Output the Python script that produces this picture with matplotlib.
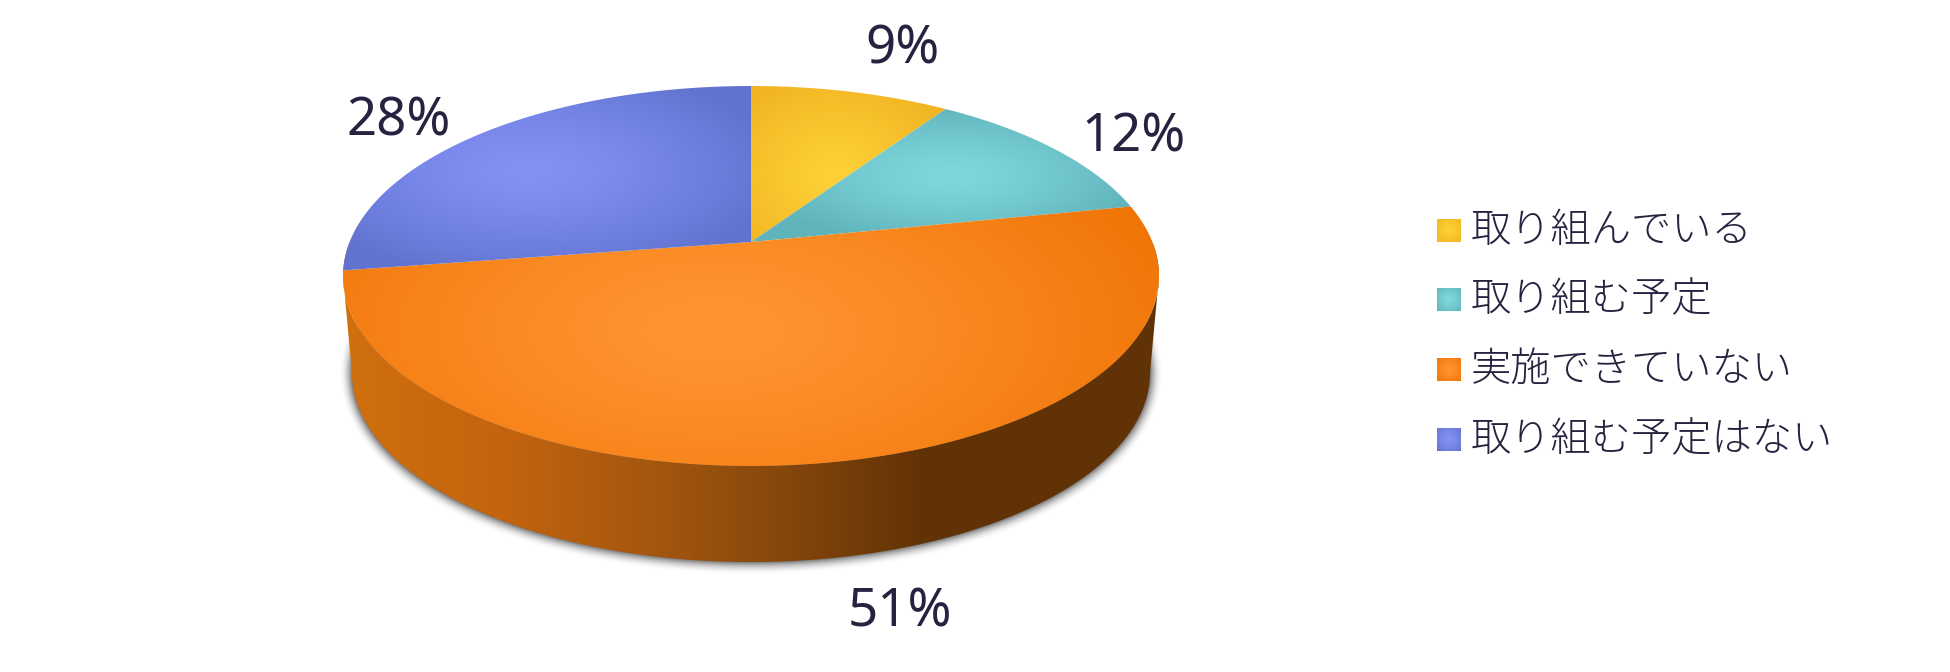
import matplotlib
matplotlib.use("Agg")
import matplotlib.pyplot as plt
import numpy as np
from matplotlib.colors import to_rgb
from matplotlib.patches import Polygon

# legend entries, clockwise from 12 o'clock
categories = ["取り組んでいる", "取り組む予定", "実施できていない", "取り組む予定はない"]
values = [9.4, 12.4, 50.8, 27.4]
pct_labels = ["9%", "12%", "51%", "28%"]

light_colors = ["#fed037", "#80d8de", "#ff9532", "#8492f6"]
dark_colors = ["#f1b422", "#5fb3ba", "#f07405", "#6173cf"]

TEXT = "#25233f"
W, H = 1950, 672

# perspective pie: back edge y=86, hub y=242, front edge y=466
CX, HUB_Y = 751, 242
SX, SY, K = 401.4, 183.9, 0.179
# bottom rim of the cylinder
RIM_Y, RIM_RX, RIM_RY = 373, 399, 189

plt.rcParams["font.family"] = ["Noto Sans CJK JP", "DejaVu Sans"]

fig = plt.figure(figsize=(W / 100, H / 100), dpi=100, facecolor="white")
ax = fig.add_axes([0, 0, 1, 1])
ax.axis("off")

yy, xx = np.mgrid[0:H, 0:W] + 0.5


def project(frac):
    # frac of the way round the pie -> pixel position
    a = np.asarray(frac) * 2 * np.pi
    x, y = np.sin(a), np.cos(a)
    d = 1 + K * y
    return CX + SX * x / d, HUB_Y - SY * y / d


def radial(light, dark, hx, hy, sx, sy):
    t = np.clip(np.hypot((xx - hx) / sx, (yy - hy) / sy), 0, 1)[..., None] ** 1.3
    return np.array(to_rgb(light)) * (1 - t) + np.array(to_rgb(dark)) * t


def paint(img, path, z):
    patch = Polygon(path, closed=True, transform=ax.transData, fc="none", ec="none")
    ax.add_patch(patch)
    im = ax.imshow(img, extent=(0, W, H, 0), origin="upper", aspect="auto", zorder=z,
                   interpolation="bilinear")
    im.set_clip_path(patch)


# soft shadow around the bottom rim
u, v = (xx - CX) / RIM_RX, (yy - RIM_Y) / RIM_RY
r = np.maximum(np.hypot(u, v), 1e-3)
grad = np.hypot(u / RIM_RX, v / RIM_RY) / r
dist = (r - 1) / np.maximum(grad, 1e-5)
alpha = 0.8 * np.clip(1 - dist / 13, 0, 1) ** 2
alpha[yy < 300] = 0
shadow = np.dstack([np.full_like(alpha, 0.35)] * 3 + [alpha])
ax.imshow(shadow, extent=(0, W, H, 0), origin="upper", aspect="auto", zorder=1)

# cylinder side
stops_x = [343, 500, 650, 760, 870, 920, 1159]
stops_c = ["#d0700e", "#c4640e", "#a5570f", "#8c4a0c", "#6f3a08", "#633207", "#623207"]
rgb = np.array([to_rgb(c) for c in stops_c])
side = np.dstack([np.interp(xx, stops_x, rgb[:, i]) for i in range(3)])
ang = np.linspace(0, np.pi, 200)
rim = np.c_[CX + RIM_RX * np.cos(ang), RIM_Y + RIM_RY * np.sin(ang)]
top_rim = np.array(project(np.linspace(0.25, 0.75, 200))).T
paint(side, np.r_[[[1159, 276]], rim, [[343, 276]], top_rim[::-1]], 2)

# top face
highlights = [(835, 175, 125, 105), (950, 175, 200, 72), (715, 330, 490, 240), (530, 170, 250, 110)]
edges = np.r_[0, np.cumsum(values)] / sum(values)
for i in range(len(values)):
    f = np.linspace(edges[i], edges[i + 1], 200)
    px, py = project(f)
    path = np.r_[[[CX, HUB_Y]], np.c_[px, py]]
    paint(radial(light_colors[i], dark_colors[i], *highlights[i]), path, 3)

# percentage labels
label_xy = [(902, 50), (1133, 138), (900, 613), (399, 122)]
for (lx, ly), s in zip(label_xy, pct_labels):
    ax.text(lx, ly, s, color=TEXT, fontsize=38, ha="center", va="center",
            family=["Noto Sans", "DejaVu Sans"], zorder=5)

# legend
legend_y = [232, 301, 371, 441]
for i, (name, ly) in enumerate(zip(categories, legend_y)):
    swatch_y = ly - 2
    sw = Polygon([(1437, swatch_y - 11.5), (1461, swatch_y - 11.5),
                  (1461, swatch_y + 11.5), (1437, swatch_y + 11.5)],
                 closed=True, fc="none", ec="none")
    ax.add_patch(sw)
    im = ax.imshow(radial(light_colors[i], dark_colors[i], 1449, swatch_y, 17, 17),
                   extent=(0, W, H, 0), origin="upper", aspect="auto", zorder=3)
    im.set_clip_path(sw)
    ax.text(1471, ly - 1, name, color=TEXT, fontsize=29, ha="left", va="center",
            fontweight="light", zorder=5)

ax.set_xlim(0, W)
ax.set_ylim(H, 0)
fig.savefig("out.png", dpi=100, facecolor="white")
